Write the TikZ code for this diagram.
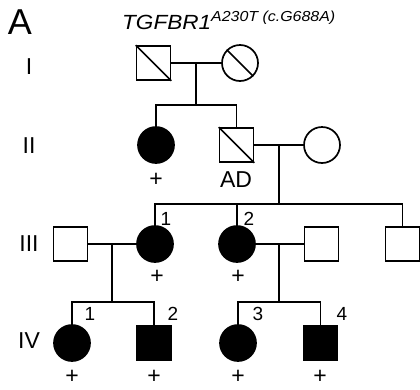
\documentclass[tikz,border=0pt]{standalone}
\usepackage{fontspec}
\usepackage{graphicx}
\setmainfont{Liberation Sans}

\tikzset{
  male/.style={draw, rectangle, minimum size=34pt, inner sep=0pt, line width=1.7pt},
  female/.style={draw, circle, minimum size=36pt, inner sep=0pt, line width=1.7pt},
  affected/.style={fill=black},
  link/.style={line width=1.7pt},
  lbl/.style={font=\fontsize{23}{26}\selectfont, inner sep=0pt},
  num/.style={font=\fontsize{19}{22}\selectfont, inner sep=0pt},
}

\begin{document}
\begin{tikzpicture}[x=1pt, y=-1pt]
  \useasboundingbox (0,0) rectangle (420,389);

  % Panel letter and gene name
  \node[font=\fontsize{36}{40}\selectfont, inner sep=0pt] (panel) at (20,22) {A};
  \node[anchor=base west, inner sep=0pt] (gene) at (122,29)
    {\scalebox{1.1}[1]{\fontsize{20.5}{24}\selectfont\itshape TGFBR1\raisebox{8pt}{\fontsize{14.5}{16}\selectfont A230T (c.G688A)}}};

  % Generation numbers
  \foreach \g/\y in {I/67, II/146, III/244, IV/341} {
    \node[lbl] (gen\g) at (29,\y) {\g};
  }

  % Generation I
  \node[male] (I1) at (153.5,63) {};
  \node[female] (I2) at (240,63) {};
  \draw[link] (I1.north west) -- (I1.south east);
  \draw[link] (I2.north west) -- (I2.south east);

  % Generation II
  \node[female, affected] (II1) at (156,145) {};
  \node[male] (II2) at (236.5,145) {};
  \node[female] (II3) at (322,145) {};
  \draw[link] (II2.north west) -- (II2.south east);

  % Generation III
  \node[male] (III1) at (70.5,244) {};
  \node[female, affected] (III2) at (155,244) {};
  \node[female, affected] (III3) at (237,244) {};
  \node[male] (III4) at (321.5,244) {};
  \node[male] (III5) at (402.5,244) {};

  % Generation IV
  \node[female, affected] (IV1) at (72,343) {};
  \node[male, affected] (IV2) at (154,343) {};
  \node[female, affected] (IV3) at (238,343) {};
  \node[male, affected] (IV4) at (320.5,343) {};

  % Marriage and sibship lines
  \coordinate (mI) at (196,63);   \coordinate (sI) at (196,105);
  \coordinate (mII) at (279,145); \coordinate (sII) at (279,204);
  \coordinate (mIIIa) at (112,244); \coordinate (sIIIa) at (112,302);
  \coordinate (mIIIb) at (279,244); \coordinate (sIIIb) at (279,302);

  \draw[link] (I1) -- (I2);
  \draw[link] (mI) -- (sI);
  \draw[link] (II1.north) -- (II1.north |- sI) -- (II2.north |- sI) -- (II2.north);

  \draw[link] (II2) -- (II3);
  \draw[link] (mII) -- (sII);
  \draw[link] (III2.north) -- (III2.north |- sII) -- (III5.north |- sII) -- (III5.north);
  \draw[link] (III3.north) -- (III3.north |- sII);

  \draw[link] (III1) -- (III2);
  \draw[link] (mIIIa) -- (sIIIa);
  \draw[link] (IV1.north) -- (IV1.north |- sIIIa) -- (IV2.north |- sIIIa) -- (IV2.north);

  \draw[link] (III3) -- (III4);
  \draw[link] (mIIIb) -- (sIIIb);
  \draw[link] (IV3.north) -- (IV3.north |- sIIIb) -- (IV4.north |- sIIIb) -- (IV4.north);

  % Carrier marks and notes
  \foreach \x/\y [count=\i] in {156/180, 157/277, 238/277, 72/377, 154/377, 238/377, 320/377} {
    \node[lbl] (plus\i) at (\x,\y) {+};
  }
  \node[lbl] (ad) at (236,180) {AD};

  % Individual numbers
  \foreach \x/\y/\t in {166/219/1, 249/219/2, 90/314/1, 173/314/2, 258/314/3, 342/314/4} {
    \node[num] at (\x,\y) {\t};
  }
\end{tikzpicture}
\end{document}
